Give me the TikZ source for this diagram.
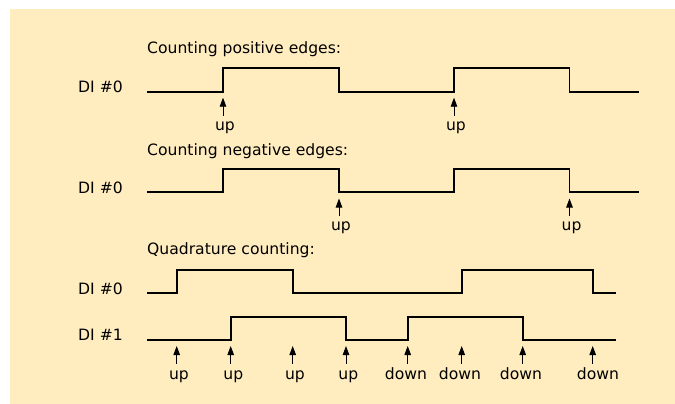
\documentclass[tikz,border=0pt]{standalone}
\usepackage{fontspec}
\setmainfont{DejaVu Sans}
\usetikzlibrary{arrows.meta}
\definecolor{panel}{RGB}{255,237,191}
\tikzset{
  wave/.style={line width=1.9pt, line join=miter},
  txt/.style={anchor=base west, inner sep=0pt, font=\fontsize{15.6}{18}\selectfont},
  lbl/.style={anchor=base, inner sep=0pt, font=\fontsize{15.6}{18}\selectfont},
  arr/.style={line width=0.9pt, -{Triangle[length=9pt,width=6.5pt]}}
}
\begin{document}
\begin{tikzpicture}[x=1pt,y=-1pt]
\useasboundingbox (0,0) rectangle (675,404);
\fill[white] (0,0) rectangle (675,404);
\fill[panel] (10,9) rectangle (675,404);

% Row 1: positive edges
\node[txt] (h1) at (147,53.3) {Counting positive edges:};
\node[txt] (d1) at (78,92.5) {DI \#0};
\draw[wave] (147,91.7) -- (223,91.7) -- (223,68.3) -- (339,68.3) -- (339,91.7) -- (454,91.7) -- (454,68.3) -- (569.5,68.3) -- (569.5,91.7) -- (639,91.7);
\coordinate (a1t) at (223,115.5); \coordinate (a1h) at (223,97.7);
\coordinate (a2t) at (454,115.5); \coordinate (a2h) at (454,97.7);
\draw[arr] (a1t) -- (a1h);
\draw[arr] (a2t) -- (a2h);
\node[lbl] (u1) at (225,130.7) {up};
\node[lbl] (u2) at (456,130.7) {up};

% Row 2: negative edges
\node[txt] (h2) at (147,155) {Counting negative edges:};
\node[txt] (d2) at (78,193.3) {DI \#0};
\draw[wave] (147,192.3) -- (223,192.3) -- (223,169.3) -- (339,169.3) -- (339,192.3) -- (454,192.3) -- (454,169.3) -- (569.5,169.3) -- (569.5,192.3) -- (639,192.3);
\coordinate (b1t) at (339,216); \coordinate (b1h) at (339,198.5);
\coordinate (b2t) at (569.5,216); \coordinate (b2h) at (569.5,198.5);
\draw[arr] (b1t) -- (b1h);
\draw[arr] (b2t) -- (b2h);
\node[lbl] (v1) at (341,230.7) {up};
\node[lbl] (v2) at (571.5,230.7) {up};

% Row 3: quadrature
\node[txt] (h3) at (147,254) {Quadrature counting:};
\node[txt] (d3) at (78,294.3) {DI \#0};
\node[txt] (d4) at (78,340.7) {DI \#1};
\draw[wave] (147,293.3) -- (176.7,293.3) -- (176.7,270) -- (292.7,270) -- (292.7,293.3) -- (461.7,293.3) -- (461.7,270) -- (592.7,270) -- (592.7,293.3) -- (616,293.3);
\draw[wave] (147,340) -- (230.7,340) -- (230.7,316.7) -- (346,316.7) -- (346,340) -- (407.7,340) -- (407.7,316.7) -- (522.7,316.7) -- (522.7,340) -- (616,340);
\foreach \i/\x in {1/176.7,2/230.7,3/292.7,4/346,5/407.7,6/461.7,7/522.7,8/592.7}{
  \coordinate (c\i t) at (\x,363.5);
  \coordinate (c\i h) at (\x,346);
  \draw[arr] (c\i t) -- (c\i h);
}
\node[lbl] (q1) at (179,379) {up};
\node[lbl] (q2) at (233.3,379) {up};
\node[lbl] (q3) at (295,379) {up};
\node[lbl] (q4) at (348.3,379) {up};
\node[lbl] (q5) at (406,379) {down};
\node[lbl] (q6) at (460,379) {down};
\node[lbl] (q7) at (521,379) {down};
\node[lbl] (q8) at (598,379) {down};
\end{tikzpicture}
\end{document}
